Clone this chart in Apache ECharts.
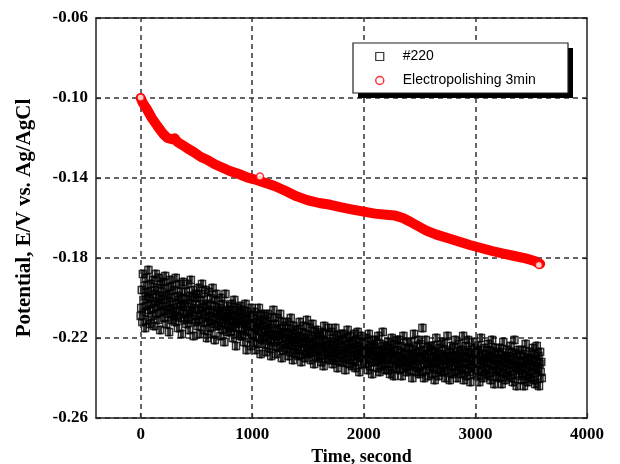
<!DOCTYPE html>
<html><head><meta charset="utf-8">
<script src="https://cdn.jsdelivr.net/npm/echarts@6/dist/echarts.min.js"></script>
<style>html,body{margin:0;padding:0;background:#fff}#c{width:620px;height:464px}</style>
</head><body><div id="c"></div>
<script>
// ---- data ----
const xTickValues = [0, 1000, 2000, 3000, 4000];
const xGridValues = [0, 1000, 2000, 3000];
const seriesNames = ['#220', 'Electropolishing 3min'];

// Electropolishing 3min (red): time (s) and potential (V)
const redTimes = [0,20,50,100,150,200,240,280,305,330,380,420,480,540,600,660,720,800,880,960,1040,1120,1200,1300,1400,1500,1600,1700,1800,1900,2000,2100,2200,2280,2350,2420,2500,2560,2650,2750,2850,2950,3050,3150,3250,3350,3450,3530,3580];
const redValues = [-0.1000,-0.1025,-0.1050,-0.1100,-0.1140,-0.1178,-0.1200,-0.1206,-0.1202,-0.1220,-0.1237,-0.1252,-0.1272,-0.1295,-0.1310,-0.1330,-0.1345,-0.1365,-0.1380,-0.1398,-0.1410,-0.1425,-0.1440,-0.1465,-0.1492,-0.1512,-0.1525,-0.1534,-0.1547,-0.1558,-0.1568,-0.1578,-0.1584,-0.1588,-0.1600,-0.1620,-0.1645,-0.1663,-0.1683,-0.1700,-0.1718,-0.1735,-0.1750,-0.1765,-0.1778,-0.1790,-0.1802,-0.1815,-0.1830];
// isolated visible red markers
const redMarkerTimes = [0, 1069, 3569];
const redMarkerValues = [-0.0998, -0.1393, -0.1835];

// #220 (black): one sample every 5 s, potential in mV
const blackStepSeconds = 5;
const blackMilliVolts = [
-209,-205,-196,-212,-188,-201,-207,-194,-215,-199,-190,-204,-211,-197,-186,-206,-200,-213,-193,-203,
-198,-209,-191,-205,-214,-196,-202,-188,-208,-200,-195,-211,-204,-190,-199,-216,-203,-193,-207,-197,
-201,-192,-210,-206,-189,-199,-213,-204,-195,-208,-198,-217,-202,-191,-206,-200,-211,-194,-205,-209,
-196,-207,-212,-190,-203,-209,-199,-215,-201,-193,-206,-210,-197,-204,-218,-200,-192,-208,-203,-211,
-204,-197,-213,-208,-193,-201,-210,-216,-199,-206,-191,-211,-203,-207,-196,-219,-205,-200,-212,-198,
-209,-200,-214,-195,-206,-211,-203,-218,-198,-208,-193,-205,-212,-201,-216,-207,-196,-210,-204,-220,
-203,-212,-197,-209,-215,-206,-200,-218,-211,-195,-207,-213,-204,-221,-201,-210,-198,-214,-208,-206,
-214,-205,-209,-219,-200,-212,-207,-216,-203,-211,-222,-208,-198,-213,-210,-217,-204,-209,-215,-206,
-208,-217,-211,-203,-214,-220,-206,-212,-201,-215,-209,-224,-210,-205,-218,-213,-207,-211,-219,-204,
-212,-219,-206,-215,-210,-222,-208,-216,-203,-213,-226,-211,-217,-207,-214,-220,-209,-213,-224,-205,
-218,-210,-222,-214,-207,-219,-226,-212,-216,-209,-223,-215,-205,-220,-213,-228,-211,-217,-221,-208,
-214,-223,-209,-219,-216,-227,-212,-220,-208,-217,-225,-213,-221,-215,-229,-210,-218,-224,-206,-219,
-222,-213,-219,-228,-216,-210,-221,-225,-215,-219,-208,-224,-217,-230,-212,-220,-226,-214,-218,-223,
-217,-225,-220,-212,-223,-229,-215,-221,-227,-210,-219,-224,-218,-231,-214,-222,-226,-216,-220,-228,
-224,-216,-221,-229,-219,-212,-226,-222,-232,-217,-223,-228,-214,-220,-225,-230,-218,-222,-211,-227,
-220,-228,-224,-215,-226,-231,-219,-223,-213,-227,-222,-233,-217,-225,-221,-229,-216,-224,-230,-218,
-226,-219,-229,-223,-232,-217,-225,-221,-234,-214,-227,-224,-230,-218,-222,-228,-226,-215,-231,-223,
-222,-229,-217,-226,-233,-224,-220,-231,-227,-215,-225,-230,-219,-235,-223,-228,-221,-226,-232,-218,
-228,-221,-232,-225,-218,-230,-224,-236,-220,-227,-231,-216,-226,-223,-233,-219,-229,-225,-222,-234,
-223,-231,-227,-218,-229,-235,-221,-226,-232,-217,-228,-224,-237,-222,-230,-226,-219,-233,-227,-225,
-229,-222,-233,-226,-220,-231,-225,-236,-228,-218,-230,-234,-224,-227,-221,-238,-226,-232,-223,-229,
-225,-232,-221,-229,-235,-227,-219,-231,-237,-226,-230,-223,-234,-228,-217,-233,-229,-224,-236,-227,
-231,-224,-229,-236,-222,-233,-227,-238,-225,-230,-220,-234,-228,-226,-239,-223,-231,-229,-235,-221,
-226,-233,-229,-221,-236,-230,-224,-232,-239,-227,-231,-219,-235,-228,-234,-225,-230,-237,-222,-232,
-232,-225,-236,-229,-222,-234,-228,-240,-226,-231,-218,-233,-229,-237,-224,-230,-235,-227,-221,-238,
-227,-234,-223,-230,-237,-215,-231,-226,-240,-229,-233,-221,-236,-228,-232,-225,-239,-230,-224,-234,
-233,-226,-230,-238,-224,-235,-229,-241,-227,-232,-220,-236,-231,-228,-239,-225,-233,-230,-237,-223,
-228,-235,-231,-222,-237,-229,-240,-226,-233,-230,-219,-236,-231,-227,-241,-232,-224,-234,-229,-238,
-232,-225,-237,-229,-221,-234,-230,-240,-227,-233,-236,-223,-231,-228,-238,-226,-235,-230,-219,-241,
-229,-236,-224,-232,-239,-227,-233,-221,-237,-230,-226,-242,-231,-228,-235,-222,-234,-230,-238,-225,
-234,-227,-231,-239,-224,-236,-229,-242,-226,-233,-220,-237,-231,-228,-240,-232,-225,-235,-230,-238,
-228,-236,-232,-223,-239,-230,-226,-241,-233,-229,-221,-237,-234,-227,-243,-231,-225,-236,-230,-239,
-235,-228,-233,-240,-225,-237,-231,-243,-227,-234,-222,-238,-232,-229,-241,-230,-236,-226,-239,-233,
-229,-237,-231,-224,-240,-233,-227,-242,-235,-230,-221,-238,-234,-228,-244,-232,-226,-236,-231,-239,
-236,-229,-234,-241,-226,-238,-232,-244,-228,-235,-223,-239,-233,-230,-242,-231,-237,-227,-240,-234,
-230,-238,-232,-225,-241,-234,-228,-243,-236,-231,-224,-239,-235,-229,-244,-233,-227,-237,-232,-240
];

// ---- build ----
const blackData = blackMilliVolts.map((mv, i) => [i * blackStepSeconds, mv / 1000]);
const blackCore = blackMilliVolts.map((mv, i) => [i * blackStepSeconds, mv / 1000]);
const redData = redTimes.map((t, i) => [t, redValues[i]]);
const redMarkerData = redMarkerTimes.map((t, i) => [t, redMarkerValues[i]]);

const SERIF = '"Liberation Serif","Times New Roman",serif';
const SANS = '"Liberation Sans",Arial,sans-serif';
const frame = { show: true, lineStyle: { color: '#222', width: 1.5 } };
const gridDash = { color: '#333', width: 1.5, type: [5, 4] };

const chart = echarts.init(document.getElementById('c'), null, { renderer: 'canvas' });
chart.setOption({
  animation: false,
  backgroundColor: '#fff',
  grid: { left: 96, right: 33, top: 18, bottom: 46, containLabel: false, outerBoundsMode: 'none' },
  xAxis: [{
    type: 'value', min: -400, max: 4000, interval: 200,
    axisLine: Object.assign({ onZero: false }, frame),
    axisTick: { show: true, inside: true, length: 5, customValues: xTickValues, lineStyle: { color: '#222', width: 1.2 } },
    axisLabel: { customValues: xTickValues, margin: 8, fontFamily: SERIF, fontWeight: 'bold', fontSize: 17, color: '#000',
      formatter: v => (v >= 0 && v % 1000 === 0) ? String(v) : '' },
    splitLine: { show: false },
    name: 'Time, second', nameLocation: 'middle', nameGap: 30,
    nameTextStyle: { fontFamily: SERIF, fontWeight: 'bold', fontSize: 18, color: '#000', padding: [0, 0, 0, 40] }
  }, {
    type: 'value', position: 'top', min: -400, max: 4000, interval: 200,
    axisLine: Object.assign({ onZero: false }, frame),
    axisTick: { show: false }, axisLabel: { show: false }, splitLine: { show: false }
  }],
  yAxis: [{
    type: 'value', min: -0.26, max: -0.06, interval: 0.04,
    axisLine: Object.assign({ onZero: false }, frame),
    axisTick: { show: true, inside: true, length: 5, lineStyle: { color: '#222', width: 1.2 } },
    axisLabel: { margin: 8, fontFamily: SERIF, fontWeight: 'bold', fontSize: 17, color: '#000', formatter: v => v.toFixed(2) },
    splitLine: { show: true, lineStyle: gridDash },
    name: 'Potential, E/V vs. Ag/AgCl', nameLocation: 'middle', nameGap: 61,
    nameTextStyle: { fontFamily: SERIF, fontWeight: 'bold', fontSize: 21, color: '#000' }
  }, {
    type: 'value', position: 'right', min: -0.26, max: -0.06, interval: 0.04,
    axisLine: Object.assign({ onZero: false }, frame),
    axisTick: { show: true, inside: true, length: 4, lineStyle: { color: '#222', width: 1.2 } },
    axisLabel: { show: false }, splitLine: { show: false }
  }],
  legend: {
    orient: 'vertical', left: 375, top: 49, padding: 0, itemGap: 9, itemWidth: 8, itemHeight: 8, z: 100,
    textStyle: { fontFamily: SANS, fontSize: 14, color: '#000', lineHeight: 15, padding: [0, 0, 0, 14] },
    data: [
      { name: seriesNames[0], icon: 'rect', itemStyle: { color: '#fff', borderColor: '#000', borderWidth: 1.2 } },
      { name: seriesNames[1], icon: 'circle', itemStyle: { color: '#fff', borderColor: '#f00', borderWidth: 1.5 } }
    ]
  },
  graphic: [
    { type: 'rect', z: 90, silent: true, shape: { x: 358, y: 48, width: 215, height: 50 }, style: { fill: '#000' } },
    { type: 'rect', z: 91, silent: true, shape: { x: 353, y: 43, width: 215, height: 50 }, style: { fill: '#fff', stroke: '#222', lineWidth: 1.2 } }
  ],
  series: [
    { // vertical dashed grid lines at the x tick values
      type: 'line', name: 'grid', data: [[0, -0.26]], symbol: 'none', z: 1, silent: true,
      lineStyle: { width: 0 },
      markLine: { silent: true, symbol: 'none', label: { show: false }, lineStyle: gridDash,
        data: xGridValues.map(v => ({ xAxis: v })) }
    },
    { // filled centres of the heavily overlapping #220 markers
      type: 'scatter', name: seriesNames[0], data: blackCore, z: 2, silent: true,
      symbol: 'rect', symbolSize: [4, 9],
      itemStyle: { color: '#000', borderWidth: 0 }
    },
    {
      type: 'scatter', name: seriesNames[0], data: blackData, z: 3,
      symbol: 'rect', symbolSize: 7,
      itemStyle: { color: 'rgba(255,255,255,0)', borderColor: '#000', borderWidth: 1.5 }
    },
    {
      type: 'scatter', name: seriesNames[1], data: redMarkerData, z: 8,
      symbol: 'circle', symbolSize: 7,
      itemStyle: { color: '#fff', borderColor: '#f00', borderWidth: 1.5 }
    },
    {
      type: 'line', name: seriesNames[1], data: redData, z: 7, symbol: 'none', showSymbol: false,
      lineStyle: { color: '#ff0000', width: 10, cap: 'round', join: 'round' }
    }
  ]
});
</script></body></html>
